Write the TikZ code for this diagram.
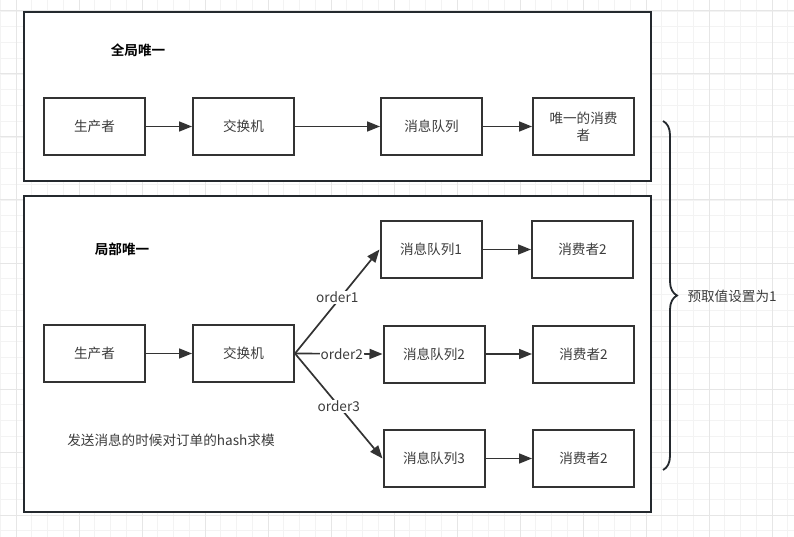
\documentclass[tikz,border=0pt]{standalone}
\usepackage{fontspec}
\setmainfont{Noto Sans CJK SC}[BoldFont={Noto Sans CJK SC Bold}]
\usetikzlibrary{arrows.meta, decorations.pathreplacing, positioning}
\definecolor{gridMinor}{HTML}{F3F3F3}
\definecolor{gridMajor}{HTML}{E6E6E6}
\definecolor{boxLine}{HTML}{333333}
\definecolor{frameLine}{HTML}{24292E}
\definecolor{boxText}{HTML}{3C3C3C}

\begin{document}
\begin{tikzpicture}[x=1pt, y=-1pt,
  box/.style={draw=boxLine, line width=2pt, fill=white, minimum width=101pt,
              minimum height=57pt, inner sep=2pt, align=center,
              font=\fontsize{13.6}{17}\selectfont, text=boxText},
  frame/.style={draw=frameLine, line width=2.4pt, fill=white},
  title/.style={font=\fontsize{13.6}{16}\selectfont\bfseries, text=black},
  note/.style={font=\fontsize{13.6}{16}\selectfont, text=boxText},
  flow/.style={-{Triangle[length=13pt,width=10pt]}, line width=1.7pt, draw=boxLine},
  tag/.style={fill=white, inner sep=1pt, font=\fontsize{13.6}{16}\selectfont,
              text=boxText}]
  \useasboundingbox (0,0) rectangle (794,537);
  \fill[white] (0,0) rectangle (794,537);
  % background grid
  \foreach \i in {0,...,50}
    \draw[gridMinor, line width=0.8pt] ({0.25+15.75*\i},0) -- ({0.25+15.75*\i},537);
  \foreach \j in {0,...,34}
    \draw[gridMinor, line width=0.8pt] (0,{11+15.75*\j}) -- (794,{11+15.75*\j});
  \foreach \i in {0,...,12}
    \draw[gridMajor, line width=1pt] ({16+63*\i},0) -- ({16+63*\i},537);
  \foreach \j in {0,...,8}
    \draw[gridMajor, line width=1pt] (0,{11+63*\j}) -- (794,{11+63*\j});

  % global ordering
  \draw[frame] (24,12) rectangle (651,181);
  \node[title] (gt) at (138,50) {全局唯一};
  \node[box] (P1) at (94.5,126.5)  {生产者};
  \node[box] (X1) at (243.5,126.5) {交换机};
  \node[box] (Q)  at (431.5,126.5) {消息队列};
  \node[box] (C)  at (583.5,126.5) {唯一的消费\\者};
  \draw[flow] (P1) -- (X1);
  \draw[flow] (X1) -- (Q);
  \draw[flow] (Q) -- (C);

  % partial ordering
  \draw[frame] (24,196) rectangle (651,512);
  \node[title] (lt) at (122,249) {局部唯一};
  \node[box] (P2) at (94.5,353.5)  {生产者};
  \node[box] (X2) at (243.5,353.5) {交换机};
  \node[box] (Q1) at (431,249.5)   {消息队列1};
  \node[box] (C1) at (582.5,249.5) {消费者2};
  \node[box] (Q2) at (434,354)     {消息队列2};
  \node[box] (C2) at (583.5,354)   {消费者2};
  \node[box] (Q3) at (434,458.5)   {消息队列3};
  \node[box] (C3) at (583.5,458.5) {消费者2};
  \node[note] (hash) at (171,440) {发送消息的时候对订单的hash求模};
  \draw[flow] (P2) -- (X2);
  \draw[flow] (X2.east) -- (Q1.west) node[tag, midway, yshift=4pt] {order1};
  \draw[flow] (X2.east) -- (Q2.west) node[tag, midway, xshift=3pt] {order2};
  \draw[flow] (X2.east) -- (Q3.west) node[tag, midway] {order3};
  \draw[flow] (Q1) -- (C1);
  \draw[flow] (Q2) -- (C2);
  \draw[flow] (Q3) -- (C3);

  % prefetch brace
  \coordinate (bt) at (663,121);
  \coordinate (bb) at (663,470);
  \draw[frameLine, line width=1.8pt,
        decorate, decoration={brace, amplitude=14pt}] (bt) -- (bb);
  \node[note, anchor=west] (pf) at (684,296) {预取值设置为1};
\end{tikzpicture}
\end{document}
